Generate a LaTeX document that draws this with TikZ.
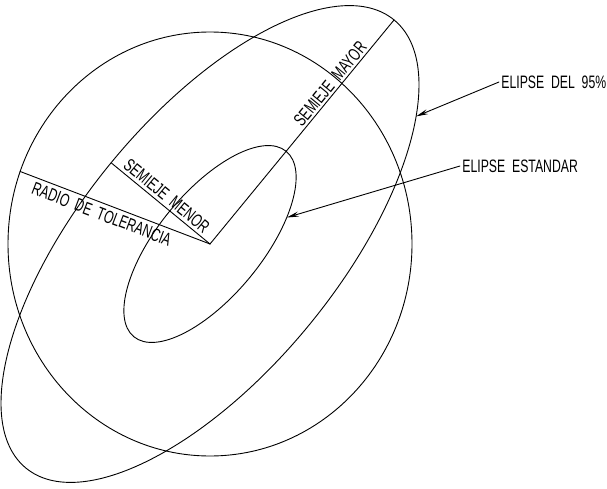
\documentclass[tikz,border=0pt]{standalone}
\usepackage{fontspec}
\newfontfamily\cadfont[FakeStretch=0.68]{Liberation Sans}
\usetikzlibrary{arrows.meta}

\begin{document}
\begin{tikzpicture}[x=1pt,y=1pt,line cap=round,line join=round,line width=0.9pt,
    >={Stealth[length=12pt,width=5pt]},
    lbl/.style={font=\cadfont\fontsize{18}{21}\selectfont,inner sep=2pt},
    axlbl/.style={lbl,sloped}]

\useasboundingbox (0,0) rectangle (607,488);

\def\ang{50.6}

\coordinate (c) at (210,244);
\path (c) ++(160:202pt and 212pt) coordinate (r);

\draw (c) ellipse [x radius=202pt,y radius=212pt];

\begin{scope}[shift={(c)},rotate=\ang]
    \draw (0,0) ellipse [x radius=290pt,y radius=128pt];
    \draw (0,0) ellipse [x radius=120pt,y radius=52pt];
    \coordinate (M) at (290pt,0);
    \coordinate (m) at (0,128pt);
    \coordinate (t95) at (-37.7:290pt and 128pt);
    \coordinate (tstd) at (-54.8:120pt and 52pt);
\end{scope}

\draw (r) -- node[axlbl,pos=.45,below=2pt] {RADIO\ \ DE\ \ TOLERANCIA} (c);
\draw (m) -- node[axlbl,pos=.5,above=1pt] {SEMIEJE\ \ MENOR} (c);
\draw (c) -- node[axlbl,pos=.69,above=0pt] {SEMIEJE\ \ MAYOR} (M);

\node[lbl,anchor=west] (e95) at (499,406) {ELIPSE\ \ DEL\ \ 95\%};
\node[lbl,anchor=west] (estd) at (460,322) {ELIPSE\ \ ESTANDAR};
\draw[->] (e95.west) -- (t95);
\draw[->] (estd.west) -- (tstd);

\end{tikzpicture}
\end{document}
